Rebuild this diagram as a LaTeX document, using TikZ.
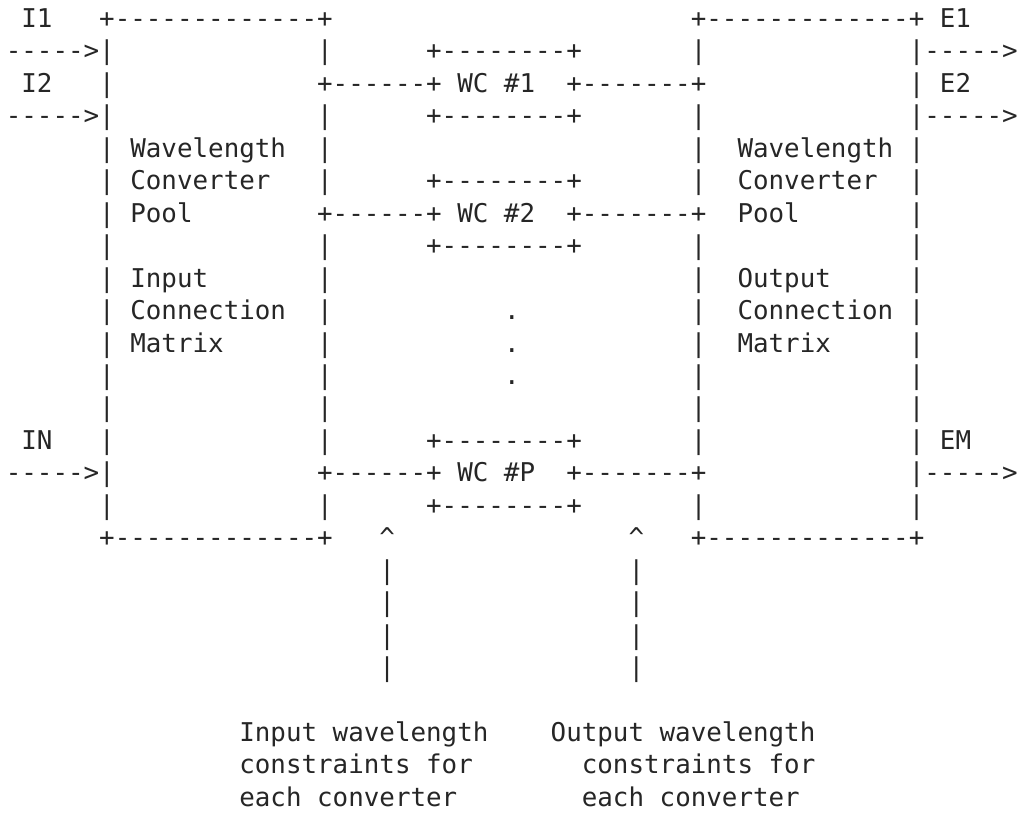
\documentclass[tikz,border=0pt]{standalone}
\usepackage{fontspec}
\setmonofont{DejaVu Sans Mono}
\ExplSyntaxOn
\NewDocumentCommand\rep{mm}{\prg_replicate:nn{#1}{#2}}
\ExplSyntaxOff
\newcommand\SP[1]{\rep{#1}{~}}
\newcommand\DS[1]{\rep{#1}{-}}
\newcommand\CAR{\textasciicircum}
\definecolor{ink}{RGB}{38,38,38}
\tikzset{
  asciirow/.style={anchor=base west, inner sep=0pt, outer sep=0pt, text=ink,
    font=\ttfamily\fontsize{25.86pt}{32.46pt}\selectfont}
}
\begin{document}
\begin{tikzpicture}[x=1pt,y=1pt]
\useasboundingbox[fill=white] (0,0) rectangle (1022,-815);
\def\xo{5.8}
\def\yrow#1{-(27.4+(#1-1)*32.46)}
\node[asciirow] (r1) at (\xo,{\yrow{1}}) {~I1\SP{3}+\DS{13}+\SP{23}+\DS{13}+~E1};
\node[asciirow] (r2) at (\xo,{\yrow{2}}) {\DS{5}>|\SP{13}|\SP{6}+\DS{8}+\SP{7}|\SP{13}|\DS{5}>};
\node[asciirow] (r3) at (\xo,{\yrow{3}}) {~I2\SP{3}|\SP{13}+\DS{6}+~WC~\#1\SP{2}+\DS{7}+\SP{13}|~E2};
\node[asciirow] (r4) at (\xo,{\yrow{4}}) {\DS{5}>|\SP{13}|\SP{6}+\DS{8}+\SP{7}|\SP{13}|\DS{5}>};
\node[asciirow] (r5) at (\xo,{\yrow{5}}) {\SP{6}|~Wavelength\SP{2}|\SP{23}|\SP{2}Wavelength~|};
\node[asciirow] (r6) at (\xo,{\yrow{6}}) {\SP{6}|~Converter\SP{3}|\SP{6}+\DS{8}+\SP{7}|\SP{2}Converter\SP{2}|};
\node[asciirow] (r7) at (\xo,{\yrow{7}}) {\SP{6}|~Pool\SP{8}+\DS{6}+~WC~\#2\SP{2}+\DS{7}+\SP{2}Pool\SP{7}|};
\node[asciirow] (r8) at (\xo,{\yrow{8}}) {\SP{6}|\SP{13}|\SP{6}+\DS{8}+\SP{7}|\SP{13}|};
\node[asciirow] (r9) at (\xo,{\yrow{9}}) {\SP{6}|~Input\SP{7}|\SP{23}|\SP{2}Output\SP{5}|};
\node[asciirow] (r10) at (\xo,{\yrow{10}}) {\SP{6}|~Connection\SP{2}|\SP{11}.\SP{11}|\SP{2}Connection~|};
\node[asciirow] (r11) at (\xo,{\yrow{11}}) {\SP{6}|~Matrix\SP{6}|\SP{11}.\SP{11}|\SP{2}Matrix\SP{5}|};
\node[asciirow] (r12) at (\xo,{\yrow{12}}) {\SP{6}|\SP{13}|\SP{11}.\SP{11}|\SP{13}|};
\node[asciirow] (r13) at (\xo,{\yrow{13}}) {\SP{6}|\SP{13}|\SP{23}|\SP{13}|};
\node[asciirow] (r14) at (\xo,{\yrow{14}}) {~IN\SP{3}|\SP{13}|\SP{6}+\DS{8}+\SP{7}|\SP{13}|~EM};
\node[asciirow] (r15) at (\xo,{\yrow{15}}) {\DS{5}>|\SP{13}+\DS{6}+~WC~\#P\SP{2}+\DS{7}+\SP{13}|\DS{5}>};
\node[asciirow] (r16) at (\xo,{\yrow{16}}) {\SP{6}|\SP{13}|\SP{6}+\DS{8}+\SP{7}|\SP{13}|};
\node[asciirow] (r17) at (\xo,{\yrow{17}}) {\SP{6}+\DS{13}+\SP{3}\CAR\SP{15}\CAR\SP{3}+\DS{13}+};
\node[asciirow] (r18) at (\xo,{\yrow{18}}) {\SP{24}|\SP{15}|};
\node[asciirow] (r19) at (\xo,{\yrow{19}}) {\SP{24}|\SP{15}|};
\node[asciirow] (r20) at (\xo,{\yrow{20}}) {\SP{24}|\SP{15}|};
\node[asciirow] (r21) at (\xo,{\yrow{21}}) {\SP{24}|\SP{15}|};
\node[asciirow] (r23) at (\xo,{\yrow{23}}) {\SP{15}Input~wavelength\SP{4}Output~wavelength};
\node[asciirow] (r24) at (\xo,{\yrow{24}}) {\SP{15}constraints~for\SP{7}constraints~for};
\node[asciirow] (r25) at (\xo,{\yrow{25}}) {\SP{15}each~converter\SP{8}each~converter};
\end{tikzpicture}
\end{document}
